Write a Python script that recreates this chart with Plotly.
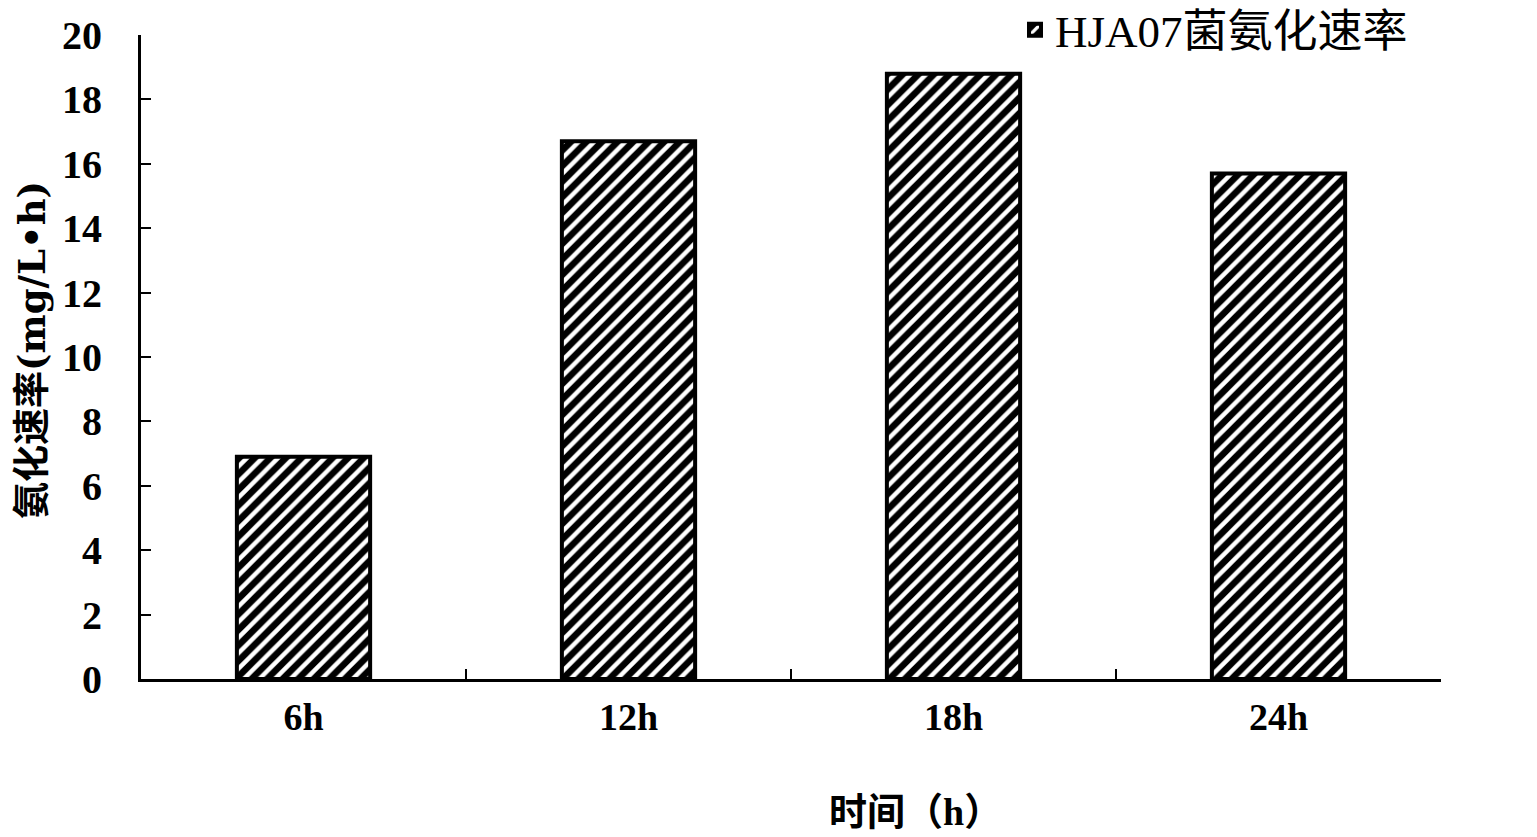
import plotly.graph_objects as go

categories = ["6h", "12h", "18h", "24h"]
values = [6.9, 16.7, 18.8, 15.7]
series_name = "HJA07菌氨化速率"
y_ticks = [0, 2, 4, 6, 8, 10, 12, 14, 16, 18, 20]
x_title = "时间（h）"
y_title = "氨化速率(mg/L•h)"

FONT = "Liberation Serif, Noto Sans CJK SC, serif"
TITLE_FONT = "DejaVu Serif, Noto Sans CJK SC, serif"

W, H = 1537, 837
OFF = 8  # default page body margin
L, R, T, B = 141 - OFF, 96 + OFF, 35 - OFF, 158 + OFF
PW, PH = W - L - R, H - T - B
PL, PT, PB = L + OFF, T + OFF, H - B + OFF  # plot-area edges in page pixels


def px_x(x):
    return (x - PL) / PW


def px_y(y):
    return (PB - y) / PH


fig = go.Figure()
fig.add_trace(go.Bar(
    x=categories, y=values, name=series_name,
    marker=dict(
        color="black",
        line=dict(color="black", width=4),
        pattern=dict(shape="/", fgcolor="white", bgcolor="black", size=11, solidity=0.4, fillmode="replace"),
    ),
    showlegend=True,
))

fig.update_layout(
    width=W, height=H,
    margin=dict(l=L, r=R, t=T, b=B, autoexpand=False),
    plot_bgcolor="white", paper_bgcolor="white",
    bargap=0.59,
    font=dict(family=FONT, color="black"),
    showlegend=True,
    legend=dict(
        x=px_x(1015), y=px_y(-6), xanchor="left", yanchor="top",
        font=dict(size=45, family=FONT, color="black"),
        bgcolor="rgba(0,0,0,0)", itemwidth=30,
    ),
    xaxis=dict(
        showline=True, linecolor="black", linewidth=3,
        ticks="inside", tickson="boundaries", ticklen=10, tickwidth=2, tickcolor="black",
        tickfont=dict(size=38, family=FONT, weight="bold"),
        ticklabelstandoff=2,
        showgrid=False, zeroline=False,
    ),
    yaxis=dict(
        range=[0, 20], tickvals=y_ticks,
        showline=True, linecolor="black", linewidth=3,
        ticks="inside", ticklen=10, tickwidth=2, tickcolor="black",
        tickfont=dict(size=40, family=FONT, weight="bold"),
        ticklabelstandoff=28,
        showgrid=False, zeroline=False,
    ),
)

fig.add_annotation(
    text=y_title, xref="paper", yref="paper", x=px_x(32), y=px_y(350),
    xanchor="center", yanchor="middle", showarrow=False, textangle=-90,
    font=dict(size=37, family=TITLE_FONT, weight="bold"),
)

fig.add_annotation(
    text=x_title, xref="paper", yref="paper", x=px_x(915), y=px_y(812),
    xanchor="center", yanchor="middle", showarrow=False,
    font=dict(size=38, family=FONT, weight="bold"),
)

fig.write_html("out.html")
